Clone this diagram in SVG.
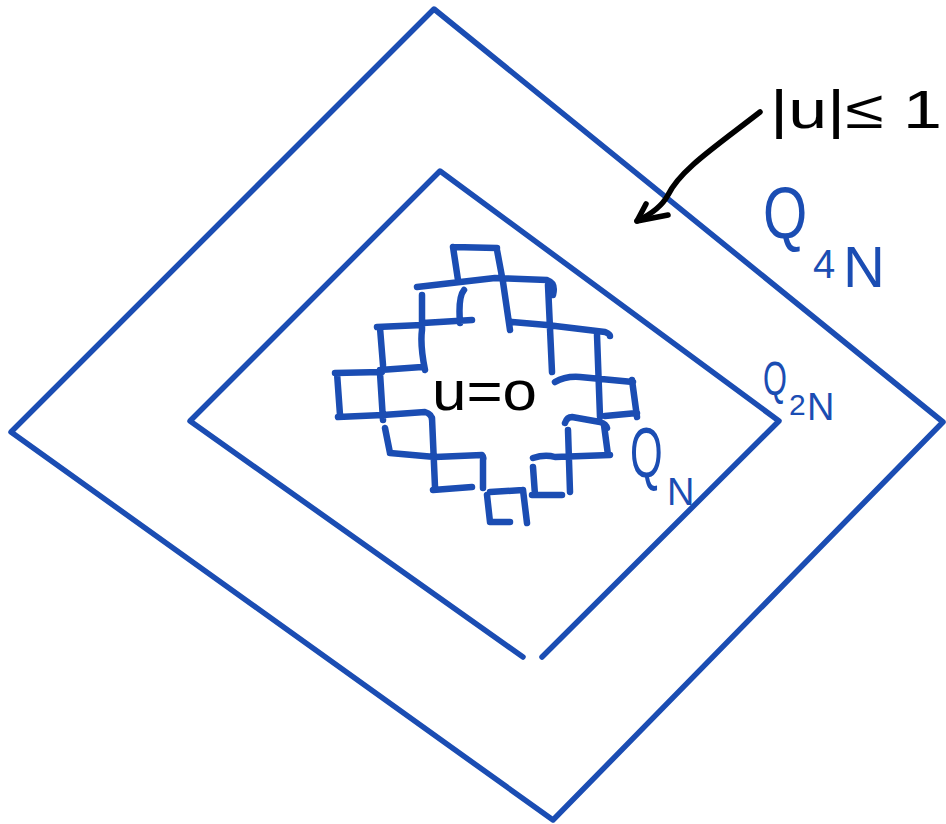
<svg xmlns="http://www.w3.org/2000/svg" width="946" height="824" viewBox="0 0 946 824">
<style>
.b{fill:none;stroke:#1b4db3;stroke-width:5.5;stroke-linecap:round;stroke-linejoin:round}
.s{fill:none;stroke:#1b4db3;stroke-width:6.5;stroke-linecap:round;stroke-linejoin:round}
.k{fill:none;stroke:#000;stroke-width:5.5;stroke-linecap:round;stroke-linejoin:round}
.bt{fill:#1b4db3;font-family:"Liberation Sans",Arial,sans-serif}
.kt{fill:#000;font-family:"Liberation Sans",Arial,sans-serif}
</style>
<rect width="946" height="824" fill="#fff"/>
<g id="q4n">
<path class="b" d="M11,432 L434,9 L943,422 L553,820 Z"/>
<text class="bt" transform="translate(763,238) scale(0.79,1)" font-size="72">Q</text>
<text class="bt" x="813" y="278" font-size="40">4</text>
<text class="bt" x="843" y="287" font-size="58">N</text>
</g>
<g id="q2n">
<path class="b" d="M523,657 L190,421 L440,171 L779,421 L542,657"/>
<text class="bt" transform="translate(763,395) scale(0.64,1)" font-size="48">Q</text>
<text class="bt" x="789" y="415" font-size="30">2</text>
<text class="bt" x="807" y="420" font-size="38">N</text>
</g>
<g id="qn">
<path class="s" d="
M453,247 L497,248 M453,247 L458,280 M497,250 L503,282 L510,330
M417,287 L495,278 L547,280 Q556,283 553,295
M422,295 L422,330 Q420,345 425,370
M464,290 Q458,297 460,323 M423,323 L472,320
M548,285 L552,372
M512,322 L547,325 L605,332 Q610,334 610,336
M597,335 L600,417
M377,327 L422,325 M380,328 L383,365 M380,370 L422,367
M335,373 L382,372 M337,373 L340,415 M338,417 L383,415 M380,373 L383,420
M555,382 Q565,376 580,377 L633,382 M632,380 L637,417 M605,416 L637,413
M383,415 L425,412 Q432,414 432,420 M385,428 L390,453 M432,418 L435,487 M390,453 L435,457
M435,457 L482,455 Q484,457 483,460 L483,488 M433,490 L472,487
M487,495 L490,522 M490,492 L523,490 M523,490 L527,523 M490,522 L510,522
M565,423 Q567,417 572,417 L600,422 Q606,424 607,428 M604,425 L608,455
M568,430 L570,492
M533,458 Q545,454 555,457 L610,455
M533,467 L535,495 M532,495 L562,495"/>
<text class="bt" transform="translate(630,477) scale(0.6,1)" font-size="70">Q</text>
<text class="bt" x="667" y="505" font-size="38">N</text>
<text class="kt" x="432" y="410" font-size="56" textLength="105" lengthAdjust="spacingAndGlyphs">u=o</text>
</g>
<g id="bound-label">
<text class="kt" x="770" y="128" font-size="54" textLength="172" lengthAdjust="spacingAndGlyphs">|u|≤ 1</text>
</g>
<g id="connectors">
<path class="k" d="M760,112 C715,147 680,170 668,195 Q660,210 637,221"/>
<path class="k" d="M646,204 L637,221 L668,215"/>
</g>
</svg>
